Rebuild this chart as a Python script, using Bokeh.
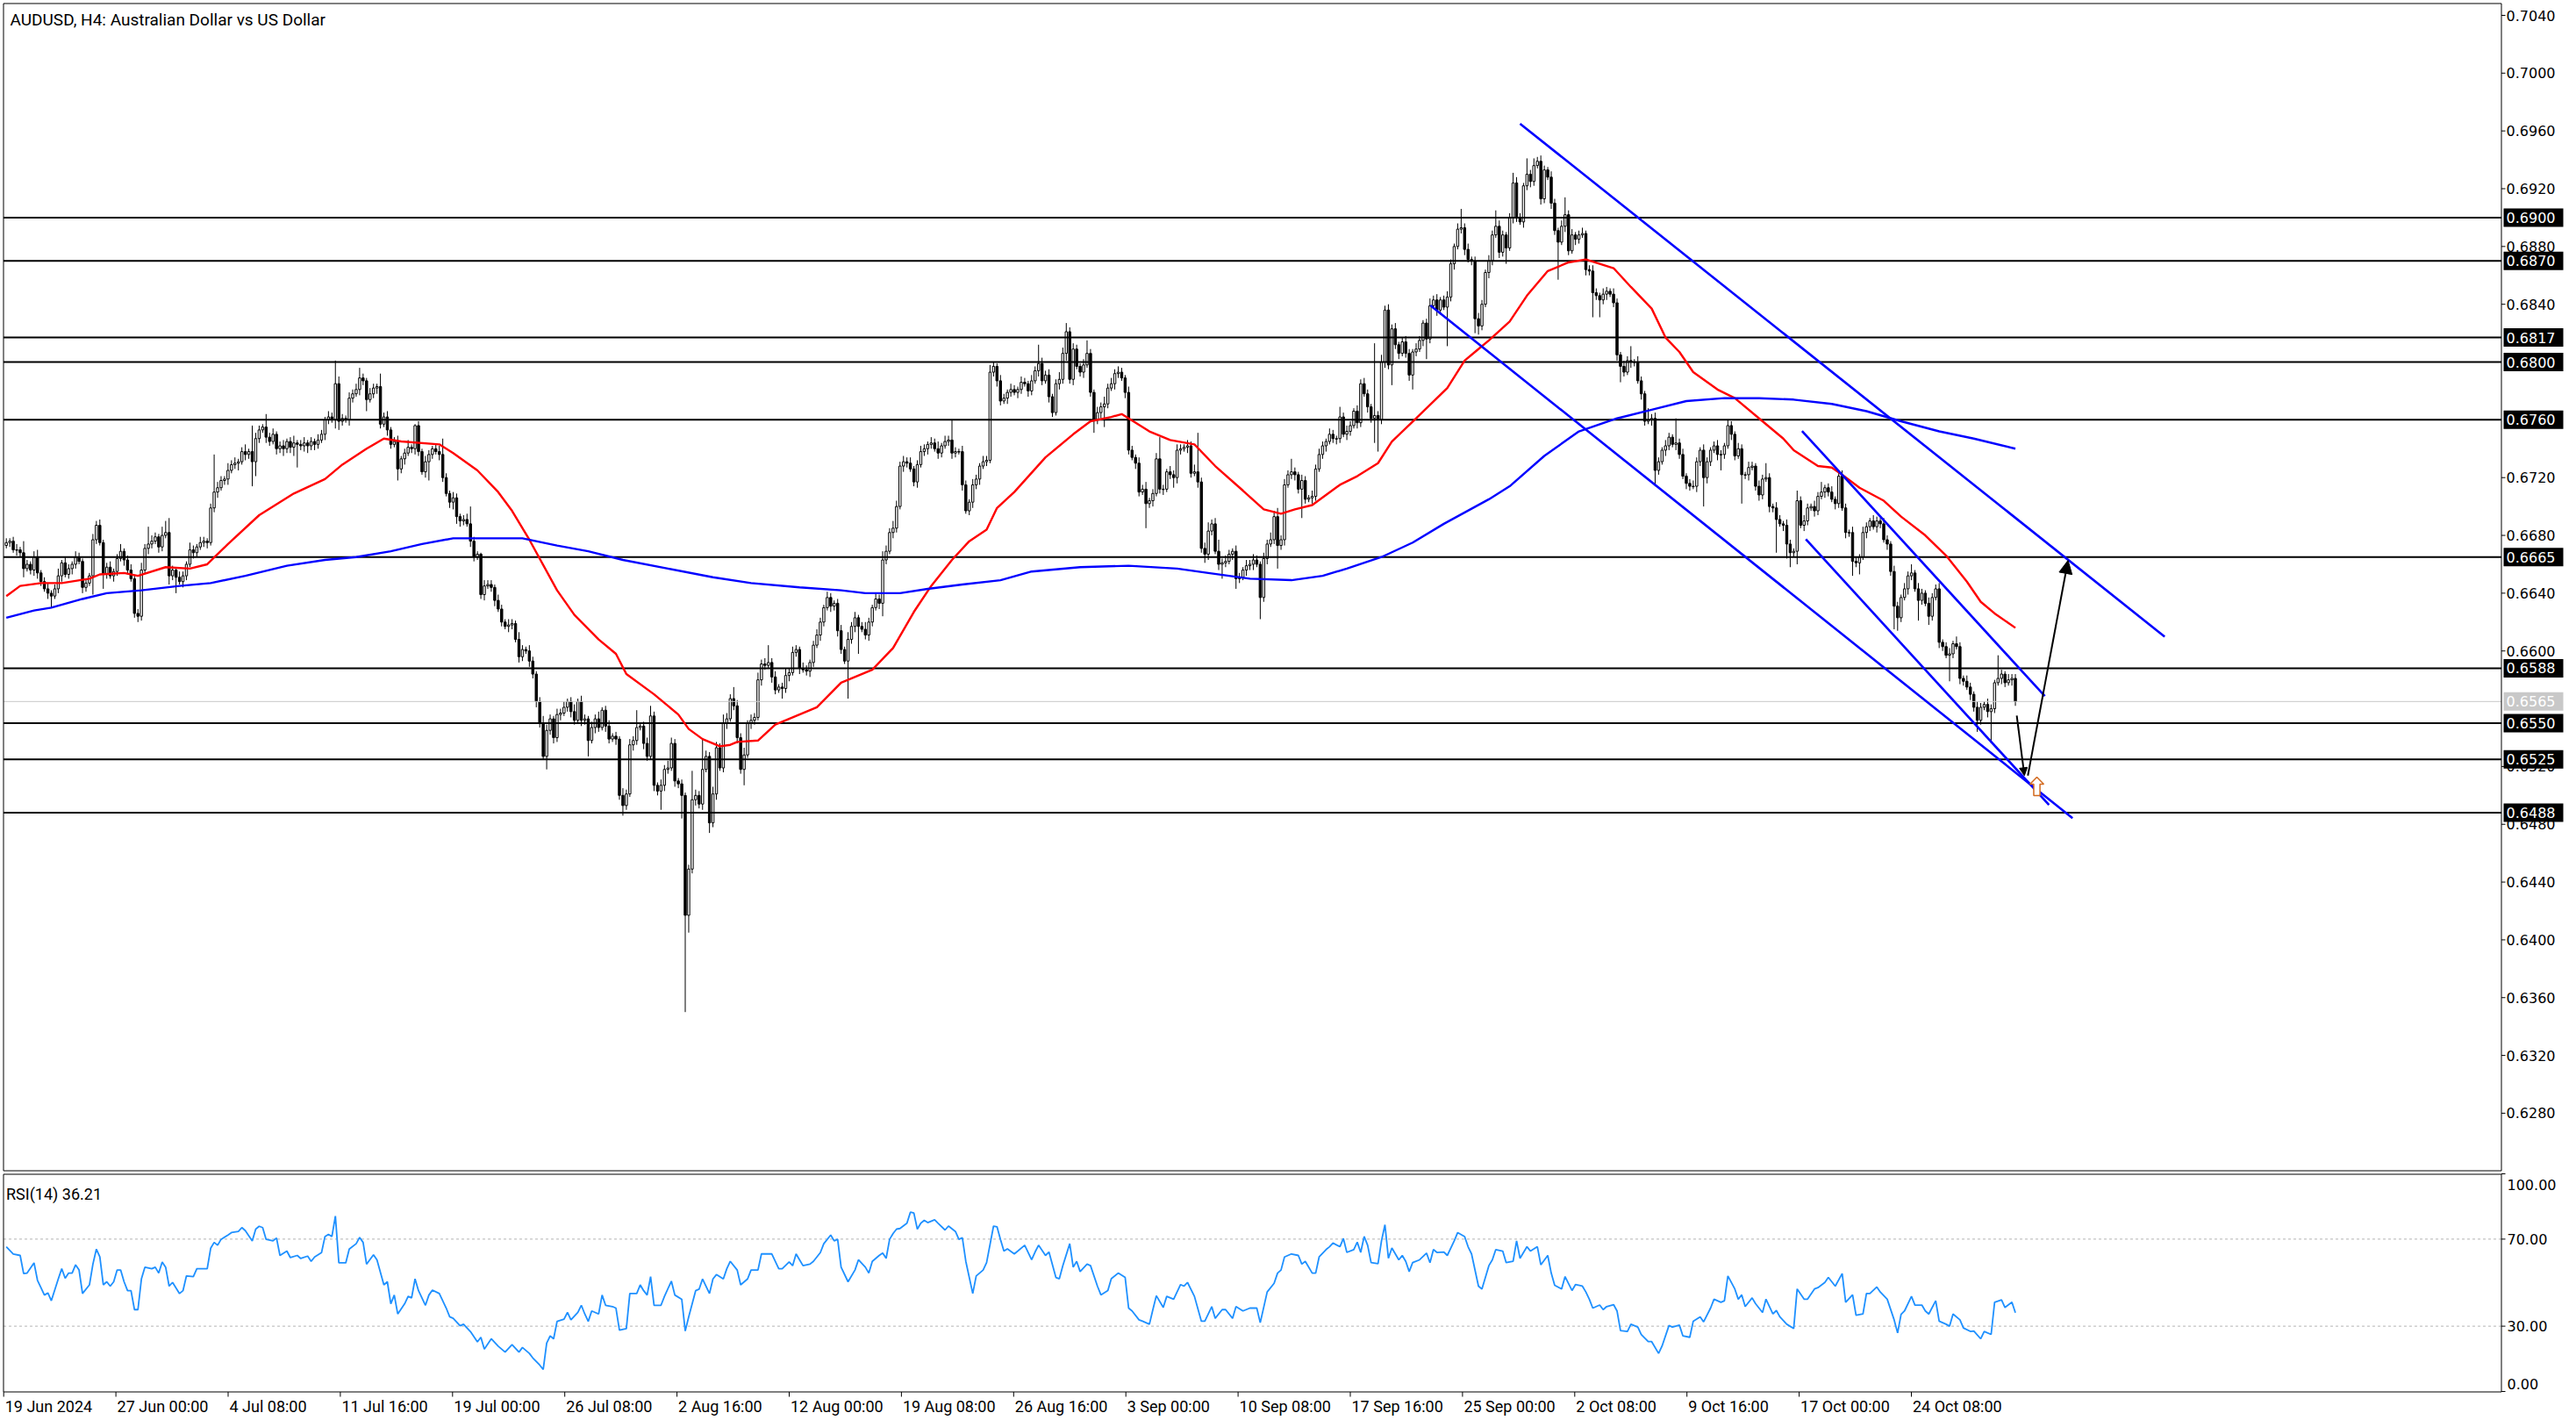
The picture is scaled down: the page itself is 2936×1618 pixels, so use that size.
from bokeh.plotting import figure
from bokeh.layouts import column
from bokeh.models import Range1d, Arrow, NormalHead, ColumnDataSource
from bokeh.core.properties import value
from bokeh.embed import file_html
from bokeh.resources import INLINE

# ---------------------------------------------------------------- data
symbol_title = "AUDUSD, H4:  Australian Dollar vs US Dollar"
rsi_title = "RSI(14) 36.21"
PIP = 0.0001
first_open_pips = 6673

close_pips = [
    6675, 6676, 6670, 6670, 6668, 6657, 6660, 6656, 6665, 6654,
    6648, 6643, 6640, 6638, 6643, 6652, 6661, 6653, 6657, 6660,
    6665, 6662, 6644, 6647, 6652, 6677, 6687, 6675, 6653, 6658,
    6652, 6655, 6664, 6669, 6663, 6656, 6650, 6626, 6624, 6656,
    6671, 6674, 6676, 6679, 6672, 6680, 6682, 6652, 6656, 6651,
    6648, 6652, 6660, 6670, 6668, 6672, 6675, 6676, 6675, 6699,
    6710, 6713, 6718, 6719, 6725, 6729, 6730, 6731, 6738, 6736,
    6738, 6731, 6747, 6753, 6755, 6748, 6745, 6750, 6740, 6742,
    6740, 6745, 6741, 6744, 6743, 6742, 6744, 6742, 6745, 6743,
    6746, 6750, 6760, 6762, 6760, 6785, 6759, 6761, 6760, 6775,
    6778, 6781, 6789, 6787, 6774, 6778, 6782, 6783, 6757, 6762,
    6753, 6743, 6745, 6726, 6733, 6737, 6741, 6740, 6756, 6738,
    6724, 6731, 6736, 6740, 6738, 6736, 6720, 6709, 6703, 6706,
    6693, 6690, 6691, 6688, 6676, 6665, 6667, 6639, 6645, 6646,
    6644, 6635, 6629, 6620, 6617, 6618, 6619, 6608, 6596, 6601,
    6600, 6593, 6584, 6565, 6550, 6527, 6545, 6553, 6540, 6556,
    6557, 6561, 6565, 6558, 6552, 6565, 6552, 6553, 6538, 6547,
    6553, 6547, 6559, 6548, 6539, 6541, 6539, 6500, 6493, 6501,
    6535, 6538, 6547, 6548, 6536, 6527, 6555, 6507, 6503, 6507,
    6518, 6519, 6536, 6510, 6508, 6500, 6417, 6449, 6497, 6500,
    6494, 6518, 6527, 6481, 6501, 6533, 6519, 6550, 6553, 6567,
    6562, 6540, 6518, 6528, 6550, 6552, 6554, 6580, 6591, 6590,
    6592, 6582, 6573, 6575, 6574, 6583, 6585, 6599, 6601, 6588,
    6587, 6586, 6592, 6604, 6611, 6620, 6630, 6637, 6631, 6633,
    6614, 6601, 6593, 6608, 6617, 6623, 6617, 6615, 6611, 6620,
    6630, 6636, 6633, 6663, 6669, 6682, 6685, 6700, 6728, 6731,
    6730, 6726, 6717, 6729, 6738, 6740, 6743, 6744, 6740, 6737,
    6742, 6745, 6746, 6737, 6738, 6738, 6715, 6697, 6703, 6715,
    6719, 6728, 6731, 6732, 6793, 6797, 6787, 6773, 6775, 6779,
    6781, 6779, 6781, 6786, 6785, 6780, 6787, 6794, 6799, 6787,
    6791, 6776, 6765, 6785, 6788, 6806, 6821, 6788, 6809, 6797,
    6793, 6798, 6806, 6779, 6760, 6765, 6769, 6771, 6782, 6785,
    6792, 6793, 6789, 6779, 6739, 6734, 6730, 6710, 6712, 6702,
    6704, 6709, 6733, 6712, 6712, 6724, 6722, 6720, 6739, 6740,
    6741, 6742, 6723, 6724, 6717, 6671, 6667, 6683, 6688, 6669,
    6660, 6661, 6662, 6667, 6669, 6650, 6651, 6656, 6659, 6660,
    6663, 6660, 6637, 6664, 6674, 6677, 6693, 6673, 6677, 6715,
    6722, 6724, 6722, 6712, 6718, 6705, 6706, 6707, 6726, 6736,
    6742, 6745, 6750, 6747, 6747, 6762, 6750, 6752, 6756, 6766,
    6758, 6785, 6778, 6769, 6761, 6763, 6760, 6800, 6836, 6798,
    6823, 6812, 6806, 6814, 6806, 6791, 6807, 6809, 6815, 6827,
    6816, 6839, 6843, 6836, 6843, 6838, 6845, 6868, 6880, 6892,
    6893, 6878, 6871, 6870, 6830, 6825, 6840, 6862, 6870, 6888,
    6894, 6876, 6888, 6879, 6900, 6924, 6900, 6897, 6922, 6930,
    6925, 6936, 6939, 6913, 6933, 6928, 6910, 6891, 6883, 6894,
    6902, 6877, 6888, 6885, 6888, 6889, 6864, 6863, 6848, 6846,
    6843, 6847, 6849, 6847, 6841, 6805, 6797, 6793, 6801, 6800,
    6800, 6787, 6778, 6759, 6760, 6761, 6725, 6731, 6739, 6742,
    6748, 6743, 6744, 6736, 6721, 6716, 6714, 6714, 6731, 6739,
    6720, 6731, 6739, 6742, 6736, 6736, 6742, 6756, 6750, 6735,
    6740, 6722, 6722, 6727, 6728, 6714, 6708, 6719, 6720, 6700,
    6699, 6691, 6688, 6687, 6674, 6668, 6669, 6704, 6687, 6690,
    6699, 6700, 6697, 6707, 6710, 6713, 6710, 6705, 6702, 6721,
    6699, 6682, 6682, 6662, 6661, 6665, 6682, 6686, 6690, 6686,
    6690, 6688, 6677, 6674, 6655, 6631, 6623, 6637, 6643, 6652,
    6654, 6643, 6635, 6640, 6633, 6624, 6637, 6643, 6606, 6603,
    6597, 6598, 6605, 6603, 6581, 6579, 6575, 6570, 6561, 6552,
    6561, 6563, 6558, 6560, 6578, 6581, 6584, 6578, 6580, 6581,
    6565,
]

upper_wick_pips = [
    3, 2, 3, 4, 2, 8, 3, 2, 4, 5, 2, 3, 4, 2, 3, 5, 2, 4, 3, 2,
    4, 3, 2, 3, 2, 4, 3, 4, 2, 3, 4, 2, 3, 5, 2, 3, 4, 2, 3, 5,
    3, 12, 4, 3, 2, 6, 8, 10, 3, 2, 4, 3, 2, 5, 3, 2, 4, 3, 2, 3,
    26, 4, 3, 2, 5, 3, 4, 2, 3, 5, 2, 18, 4, 3, 2, 9, 3, 4, 2, 3,
    4, 2, 3, 5, 2, 3, 4, 2, 3, 2, 4, 3, 2, 4, 3, 16, 5, 3, 2, 4,
    3, 4, 7, 3, 2, 4, 3, 2, 9, 3, 4, 2, 3, 4, 2, 3, 5, 2, 1, 3,
    2, 4, 3, 2, 3, 4, 11, 3, 2, 4, 3, 2, 3, 4, 12, 3, 2, 1, 4, 3,
    3, 2, 4, 3, 2, 4, 3, 2, 5, 3, 2, 4, 3, 2, 3, 5, 4, 3, 2, 4,
    3, 4, 2, 3, 5, 2, 4, 3, 2, 4, 3, 5, 2, 3, 4, 2, 3, 2, 5, 3,
    4, 3, 12, 2, 3, 4, 7, 3, 2, 4, 3, 5, 4, 3, 2, 3, 2, 3, 20, 4,
    3, 21, 4, 3, 5, 4, 3, 6, 4, 3, 8, 4, 3, 5, 2, 4, 3, 5, 3, 4,
    12, 3, 4, 2, 3, 5, 3, 4, 3, 2, 4, 3, 2, 3, 4, 3, 2, 4, 3, 2,
    3, 4, 2, 5, 3, 4, 2, 3, 5, 3, 2, 4, 3, 6, 4, 3, 5, 4, 3, 4,
    3, 4, 2, 3, 4, 3, 2, 4, 3, 5, 2, 4, 3, 14, 3, 2, 4, 3, 2, 4,
    3, 2, 4, 3, 5, 3, 2, 4, 3, 2, 4, 3, 2, 4, 3, 2, 4, 3, 13, 4,
    3, 4, 2, 3, 5, 4, 6, 3, 4, 3, 2, 4, 9, 3, 2, 4, 3, 5, 3, 4,
    3, 4, 3, 2, 4, 3, 2, 4, 3, 5, 2, 3, 4, 15, 3, 2, 4, 3, 4, 3,
    2, 4, 3, 5, 27, 3, 4, 6, 3, 4, 8, 3, 4, 3, 2, 4, 3, 2, 4, 3,
    4, 3, 2, 4, 3, 5, 4, 6, 3, 4, 3, 9, 3, 2, 4, 3, 2, 4, 3, 4,
    3, 2, 4, 3, 2, 7, 3, 4, 3, 2, 4, 3, 4, 3, 2, 50, 3, 5, 3, 4,
    3, 4, 2, 3, 4, 3, 2, 4, 3, 2, 3, 5, 3, 4, 2, 3, 4, 3, 2, 4,
    13, 3, 4, 2, 3, 4, 3, 2, 4, 3, 11, 4, 3, 2, 3, 7, 4, 3, 2, 11,
    3, 5, 3, 4, 3, 2, 4, 3, 2, 4, 12, 3, 4, 2, 3, 4, 2, 3, 4, 3,
    2, 4, 3, 2, 4, 3, 2, 4, 3, 10, 2, 4, 3, 2, 8, 3, 4, 3, 2, 4,
    3, 2, 17, 3, 4, 2, 3, 4, 3, 2, 4, 3, 2, 3, 4, 3, 2, 4, 3, 2,
    4, 3, 2, 4, 3, 2, 4, 3, 10, 3, 2, 4, 3, 2, 4, 3, 2, 7, 3, 4,
    3, 2, 4, 3, 7, 2, 3, 4, 2, 3, 4, 3, 2, 4, 3, 2, 4, 3, 2, 4,
    3, 2, 4, 3, 2, 4, 3, 2, 4, 3, 6, 2, 4, 3, 2, 4, 3, 3, 4, 2,
    3, 4, 2, 5, 3, 2, 4, 3, 2, 4, 3, 2, 4, 3, 2, 16, 3, 2, 4, 3,
    3,
]

lower_wick_pips = [
    2, 3, 2, 4, 3, 6, 2, 3, 4, 4, 3, 2, 4, 8, 2, 3, 4, 2, 3, 4,
    3, 2, 4, 3, 2, 13, 3, 2, 10, 3, 2, 4, 3, 2, 4, 3, 2, 3, 4, 3,
    2, 4, 3, 2, 4, 3, 2, 6, 3, 11, 2, 4, 3, 2, 4, 3, 2, 3, 4, 2,
    3, 4, 2, 3, 4, 2, 3, 5, 2, 4, 3, 17, 10, 3, 2, 4, 3, 2, 4, 3,
    5, 3, 4, 6, 16, 3, 4, 5, 3, 4, 3, 2, 4, 3, 2, 6, 6, 3, 2, 4,
    3, 2, 4, 3, 8, 2, 3, 4, 3, 2, 4, 3, 2, 8, 3, 4, 2, 3, 4, 3,
    2, 4, 13, 3, 2, 4, 3, 2, 4, 5, 5, 4, 3, 2, 4, 3, 2, 3, 4, 2,
    3, 4, 2, 3, 2, 4, 3, 2, 4, 3, 2, 4, 3, 4, 3, 2, 9, 3, 4, 3,
    4, 2, 3, 4, 3, 2, 4, 3, 11, 2, 4, 3, 2, 4, 3, 2, 4, 3, 7, 3,
    2, 4, 3, 2, 4, 3, 2, 4, 3, 13, 4, 3, 2, 4, 3, 16, 67, 12, 3, 4,
    3, 4, 2, 7, 3, 4, 2, 3, 4, 2, 3, 4, 3, 11, 2, 4, 3, 2, 4, 3,
    2, 4, 3, 2, 7, 3, 4, 2, 3, 4, 2, 3, 4, 3, 2, 4, 3, 2, 4, 3,
    4, 3, 2, 26, 3, 4, 19, 2, 3, 4, 3, 2, 4, 9, 3, 2, 4, 3, 2, 4,
    3, 2, 3, 4, 2, 3, 4, 3, 2, 4, 3, 2, 3, 4, 3, 2, 4, 2, 3, 4,
    3, 4, 2, 3, 2, 3, 4, 3, 2, 4, 3, 2, 4, 3, 2, 4, 3, 2, 4, 3,
    2, 4, 3, 2, 4, 3, 5, 3, 4, 2, 3, 4, 2, 3, 9, 3, 4, 14, 3, 2,
    4, 3, 2, 4, 3, 2, 4, 3, 2, 17, 3, 4, 2, 3, 4, 2, 3, 7, 4, 3,
    2, 4, 3, 2, 4, 3, 6, 4, 3, 2, 4, 10, 3, 2, 4, 7, 3, 2, 4, 3,
    4, 2, 15, 3, 4, 2, 3, 16, 3, 4, 2, 3, 4, 3, 20, 3, 2, 4, 3, 2,
    3, 4, 2, 3, 4, 3, 2, 4, 3, 2, 4, 3, 2, 4, 3, 17, 22, 3, 4, 3,
    14, 3, 4, 2, 3, 4, 10, 3, 2, 4, 14, 3, 2, 4, 3, 2, 27, 3, 4, 2,
    3, 4, 2, 3, 10, 6, 3, 2, 4, 3, 2, 4, 3, 11, 2, 4, 3, 2, 4, 3,
    4, 3, 2, 4, 3, 2, 4, 3, 26, 2, 4, 3, 2, 4, 3, 2, 4, 3, 17, 3,
    12, 3, 4, 2, 3, 4, 11, 3, 2, 4, 3, 2, 4, 3, 2, 4, 11, 3, 2, 4,
    3, 2, 4, 3, 2, 4, 3, 2, 4, 3, 20, 4, 3, 2, 4, 11, 3, 2, 4, 3,
    2, 20, 3, 4, 2, 3, 4, 3, 2, 4, 3, 23, 2, 4, 10, 10, 3, 9, 2, 4,
    3, 2, 4, 3, 2, 4, 3, 2, 4, 3, 2, 4, 3, 10, 3, 8, 2, 4, 3, 2,
    4, 3, 2, 4, 3, 16, 9, 3, 2, 4, 3, 2, 14, 3, 2, 6, 3, 2, 4, 3,
    2, 18, 3, 2, 4, 3, 2, 4, 3, 8, 3, 2, 4, 22, 3, 2, 4, 3, 2, 4,
    3,
]

# moving averages (bar index, value in pips)
red_ma_bar = [0, 4, 10, 16, 24, 27, 34, 38, 46, 53, 58, 64, 73, 83, 92, 97, 104, 109, 114, 125,
              129, 136, 142, 146, 151, 159, 164, 171, 176, 179, 187, 194, 197, 201, 206, 209, 211, 217, 222, 229,
              234, 241, 250, 256, 262, 267, 273, 278, 283, 286, 291, 300, 308, 313, 319, 322, 330, 336, 343, 349,
              357, 363, 368, 372, 377, 385, 390, 396, 400, 407, 413, 416, 421, 424, 428, 434, 439, 445, 451, 456,
              464, 469, 475, 479, 483, 487, 494, 499, 507, 513, 516, 523, 527, 530, 535, 542, 547, 554, 560, 566,
              570, 574, 580]
red_ma_pips = [6638, 6645, 6647, 6647, 6650, 6653, 6654, 6652, 6658, 6657, 6660, 6674, 6694, 6709, 6719, 6729, 6740, 6747, 6745, 6743,
               6737, 6725, 6710, 6697, 6677, 6642, 6625, 6608, 6598, 6584, 6570, 6556, 6546, 6539, 6534, 6535, 6537, 6538, 6549, 6556,
               6561, 6578, 6587, 6602, 6627, 6645, 6663, 6676, 6684, 6699, 6710, 6734, 6750, 6759, 6762, 6764, 6752, 6746, 6743, 6728,
               6711, 6698, 6695, 6698, 6701, 6715, 6721, 6730, 6745, 6761, 6775, 6782, 6801, 6807, 6815, 6828, 6846, 6863, 6869, 6871,
               6865, 6852, 6837, 6817, 6807, 6793, 6781, 6775, 6759, 6747, 6739, 6728, 6727, 6722, 6713, 6704, 6693, 6680, 6666, 6648,
               6634, 6626, 6616]
blue_ma_bar = [0, 8, 13, 22, 29, 39, 50, 59, 69, 81, 92, 101, 111, 120, 129, 135, 145, 149, 159, 168,
               178, 191, 204, 215, 229, 241, 248, 258, 266, 276, 287, 296, 310, 324, 338, 347, 359, 371, 380, 387,
               397, 406, 415, 428, 434, 444, 454, 465, 475, 485, 496, 506, 516, 527, 537, 547, 558, 568, 580]
blue_ma_pips = [6623, 6628, 6630, 6636, 6640, 6642, 6645, 6647, 6652, 6659, 6663, 6665, 6669, 6674, 6678, 6678, 6678, 6678, 6673, 6669,
                6663, 6657, 6651, 6647, 6644, 6642, 6640, 6640, 6643, 6646, 6649, 6655, 6658, 6659, 6657, 6654, 6650, 6649, 6652, 6657,
                6665, 6675, 6688, 6705, 6714, 6735, 6752, 6761, 6767, 6773, 6775, 6775, 6774, 6771, 6766, 6759, 6752, 6747, 6740]

# RSI(14) (bar index, value)
rsi_bar = [
    0, 2, 4, 5, 6, 8, 9, 11, 12, 13, 15, 16, 17, 18, 19, 20, 21, 22, 24, 25,
    26, 27, 28, 29, 30, 31, 32, 33, 34, 35, 36, 37, 38, 39, 40, 42, 43, 44, 45, 46,
    47, 48, 50, 51, 52, 54, 55, 58, 59, 60, 61, 62, 64, 65, 67, 68, 69, 71, 72, 73,
    74, 75, 77, 78, 79, 81, 82, 84, 85, 87, 88, 89, 91, 92, 93, 94, 95, 96, 98, 99,
    101, 102, 103, 104, 106, 107, 109, 110, 111, 112, 113, 115, 116, 117, 118, 119, 121, 122, 123, 125,
    127, 128, 129, 131, 132, 134, 136, 137, 138, 140, 142, 144, 146, 148, 149, 151, 152, 154, 155, 156,
    157, 158, 159, 161, 162, 163, 165, 166, 167, 168, 169, 171, 172, 173, 175, 176, 177, 179, 180, 182,
    183, 184, 185, 186, 187, 189, 190, 192, 193, 195, 196, 197, 199, 200, 201, 203, 204, 205, 207, 208,
    209, 211, 212, 214, 215, 217, 218, 221, 223, 224, 226, 227, 228, 229, 230, 232, 233, 235, 236, 238,
    239, 240, 241, 243, 245, 246, 248, 249, 250, 252, 253, 254, 255, 256, 257, 258, 260, 261, 262, 263,
    264, 265, 266, 268, 269, 271, 272, 274, 275, 276, 277, 279, 280, 282, 283, 285, 286, 287, 288, 289,
    291, 292, 294, 296, 297, 298, 300, 301, 303, 304, 305, 307, 308, 309, 310, 312, 313, 315, 316, 318,
    319, 321, 323, 324, 325, 327, 328, 330, 331, 332, 334, 335, 337, 339, 340, 341, 343, 345, 346, 348,
    349, 351, 352, 354, 355, 357, 359, 361, 362, 364, 366, 367, 368, 369, 371, 373, 374, 375, 377, 378,
    379, 381, 382, 383, 385, 386, 387, 389, 390, 391, 392, 393, 394, 396, 397, 398, 399, 400, 402, 403,
    404, 405, 406, 408, 410, 411, 412, 413, 415, 416, 418, 419, 421, 422, 423, 425, 426, 428, 429, 430,
    432, 433, 435, 436, 437, 439, 440, 442, 443, 445, 446, 447, 449, 450, 452, 453, 455, 456, 457, 458,
    460, 461, 462, 464, 465, 466, 468, 469, 471, 472, 474, 475, 477, 478, 480, 481, 483, 484, 486, 487,
    489, 490, 492, 493, 495, 496, 497, 499, 500, 501, 502, 504, 505, 507, 508, 510, 511, 512, 514, 516,
    517, 519, 520, 522, 523, 525, 526, 528, 530, 531, 533, 534, 536, 537, 538, 540, 541, 543, 545, 546,
    547, 548, 550, 551, 553, 554, 555, 557, 558, 560, 561, 562, 564, 565, 567, 568, 570, 571, 573, 574,
    576, 577, 579, 580,
]
rsi_value = [
    66.5, 63.2, 62.5, 54.2, 54.4, 59.1, 51.1, 44.3, 45.3, 41.7, 51.7, 56.4, 52.0, 54.4, 54.4, 58.2, 55.8, 45.0, 49.0, 58.5,
    65.4, 61.8, 49.0, 50.4, 48.4, 50.4, 55.8, 55.8, 50.4, 46.3, 46.3, 37.6, 37.6, 51.7, 57.1, 56.4, 57.1, 54.4, 59.5, 57.1,
    48.4, 50.1, 45.0, 46.3, 53.1, 52.8, 56.4, 56.4, 65.8, 68.5, 67.2, 69.9, 71.9, 73.0, 73.5, 75.3, 73.9, 69.2, 74.6, 75.9,
    75.3, 69.9, 69.2, 70.5, 62.5, 64.5, 61.5, 62.5, 61.1, 62.2, 59.8, 61.8, 63.8, 71.2, 72.2, 71.2, 80.6, 59.1, 59.1, 65.4,
    67.9, 70.8, 68.5, 58.5, 62.8, 60.5, 49.0, 50.4, 40.3, 44.3, 35.6, 40.3, 43.7, 43.0, 51.7, 46.3, 39.6, 44.3, 46.6, 45.0,
    38.3, 34.3, 33.6, 30.2, 30.9, 27.5, 22.8, 24.9, 19.5, 24.2, 20.8, 18.1, 21.5, 18.1, 20.2, 17.5, 15.4, 12.1, 10.1, 22.2,
    25.5, 24.2, 32.2, 33.2, 36.3, 32.9, 36.3, 39.6, 35.6, 32.2, 37.0, 35.6, 44.3, 39.6, 39.0, 38.3, 28.2, 28.9, 45.0, 45.0,
    49.0, 46.3, 44.3, 52.8, 39.6, 39.6, 43.7, 50.7, 44.3, 42.3, 27.8, 34.3, 46.3, 47.0, 51.7, 45.0, 51.7, 53.7, 51.7, 56.4,
    59.8, 55.8, 49.0, 51.7, 55.8, 55.8, 63.2, 63.2, 56.4, 56.4, 59.5, 57.8, 63.2, 60.5, 57.8, 58.5, 59.8, 63.8, 67.9, 71.9,
    69.2, 69.9, 57.1, 50.4, 55.8, 60.5, 57.1, 54.4, 59.8, 62.5, 63.6, 61.2, 69.9, 72.6, 74.6, 74.9, 77.3, 82.4, 82.0, 74.6,
    77.3, 78.6, 77.6, 78.9, 77.3, 74.2, 76.0, 73.5, 69.9, 70.6, 59.8, 45.0, 53.1, 55.8, 59.2, 76.0, 75.7, 69.9, 64.5, 65.5,
    63.2, 64.5, 67.2, 60.5, 64.1, 67.2, 62.5, 64.1, 52.4, 51.8, 57.8, 67.9, 57.1, 59.8, 55.1, 58.5, 57.8, 48.4, 44.4, 46.4,
    51.8, 54.4, 52.4, 38.3, 37.0, 32.9, 32.3, 30.9, 37.6, 44.0, 38.6, 43.7, 42.4, 49.1, 48.4, 50.1, 43.7, 32.3, 32.3, 39.0,
    33.6, 37.6, 37.6, 33.6, 39.0, 37.0, 38.3, 38.3, 31.6, 45.7, 49.7, 54.4, 55.8, 61.8, 63.2, 62.5, 58.5, 59.8, 54.4, 54.4,
    61.8, 65.2, 66.5, 68.2, 66.5, 70.3, 63.9, 65.2, 68.6, 63.9, 71.2, 67.2, 59.2, 58.7, 69.2, 76.6, 61.2, 65.9, 60.5, 62.5,
    59.8, 55.1, 59.2, 60.5, 63.6, 59.2, 65.2, 63.9, 64.1, 62.5, 69.2, 73.0, 71.2, 66.5, 63.2, 48.4, 47.1, 57.8, 60.5, 65.2,
    64.5, 59.2, 59.8, 69.2, 61.2, 66.5, 64.5, 66.5, 58.2, 62.5, 54.4, 48.8, 47.1, 52.8, 46.4, 49.1, 48.4, 45.7, 42.4, 38.3,
    39.7, 37.6, 39.0, 39.9, 37.0, 28.0, 27.6, 30.9, 29.6, 26.2, 22.9, 22.9, 17.5, 20.9, 30.3, 29.6, 30.5, 25.6, 24.9, 32.3,
    34.3, 32.0, 38.3, 42.4, 41.0, 41.7, 53.1, 47.1, 42.4, 44.4, 39.0, 43.0, 40.3, 36.3, 42.4, 35.6, 37.2, 34.3, 30.9, 28.9,
    47.1, 42.4, 42.4, 47.1, 47.7, 50.1, 52.4, 48.4, 54.2, 41.0, 44.4, 35.0, 35.6, 45.0, 45.0, 48.0, 45.7, 42.4, 32.9, 26.9,
    35.4, 37.0, 43.7, 39.7, 39.7, 37.0, 35.6, 41.7, 32.3, 30.9, 30.0, 35.6, 32.9, 29.2, 27.6, 27.8, 24.2, 27.6, 26.2, 41.0,
    42.1, 38.6, 41.0, 36.2,
]

level_prices = [0.6900, 0.6870, 0.6817, 0.6800, 0.6760, 0.6665, 0.6588, 0.6550, 0.6525, 0.6488]
current_price = 0.6565
price_axis_ticks = [0.7040, 0.7000, 0.6960, 0.6920, 0.6880, 0.6840, 0.6720, 0.6680, 0.6640,
                    0.6600, 0.6520, 0.6480, 0.6440, 0.6400, 0.6360, 0.6320, 0.6280]
rsi_axis_values = [100, 70, 30, 0]
rsi_axis_texts = ["100.00", "70.00", "30.00", "0.00"]
rsi_levels = [30, 70]
date_labels = ["19 Jun 2024", "27 Jun 00:00", "4 Jul 08:00", "11 Jul 16:00", "19 Jul 00:00",
               "26 Jul 08:00", "2 Aug 16:00", "12 Aug 00:00", "19 Aug 08:00", "26 Aug 16:00",
               "3 Sep 00:00", "10 Sep 08:00", "17 Sep 16:00", "25 Sep 00:00", "2 Oct 08:00",
               "9 Oct 16:00", "17 Oct 00:00", "24 Oct 08:00"]

# drawn trend lines (start bar, start price, end bar, end price)
trend_bar0 = [437.0, 411.1, 518.4, 519.5]
trend_price0 = [0.69650, 0.68392, 0.67523, 0.66773]
trend_bar1 = [623.1, 596.5, 588.5, 589.7]
trend_price1 = [0.66099, 0.64843, 0.65687, 0.64934]
# projected path arrows (down leg then up leg)
path_bar0 = [580.4, 583.6]
path_price0 = [0.65552, 0.65137]
path_bar1 = [582.6, 595.2]
path_price1 = [0.65137, 0.66627]
buy_mark_bar = 586.2
buy_mark_price = 0.65127

# ---------------------------------------------------------------- geometry
W = 2936
MAIN_PX_H = 1335          # main canvas height
RSI_PX_H = 1618 - MAIN_PX_H
BAR_PX = 3.948            # pixels per bar
BAR0_PX = 6.7             # pixel of bar 0
PPX = 0.080865 / 1331     # price per pixel
PRICE_REF, PRICE_REF_PX = 0.7040, 17.0
RSI_TOP_PX, RSI_BOT_PX = 1337.0, 1585.0
RPX = 100.0 / (RSI_BOT_PX - RSI_TOP_PX)
FRAME_L, FRAME_R = 3.5, 2850.5
MAIN_TOP, MAIN_BOT = 3.5, 1333.5


def bx(px):
    return (px - BAR0_PX) / BAR_PX


def pyv(px):
    return PRICE_REF - (px - PRICE_REF_PX) * PPX


def ryv(px):
    return (RSI_BOT_PX - px) * RPX


AXIS_FONT = value("DejaVu Sans")
TEXT_FONT = value("Roboto")

xr = Range1d(bx(0), bx(W))

p = figure(frame_width=W, frame_height=MAIN_PX_H, x_range=xr,
           y_range=Range1d(pyv(MAIN_PX_H), pyv(0)),
           output_backend="svg", toolbar_location=None, x_axis_location=None,
           y_axis_location=None, min_border=0)
p.grid.visible = False
p.outline_line_color = None
p.background_fill_color = "white"
p.border_fill_color = "white"

# ---------------------------------------------------------------- candles
n = min(len(close_pips), len(upper_wick_pips), len(lower_wick_pips))
closes = close_pips[:n]
opens = [first_open_pips] + closes[:-1]
body_top = [max(a, b) for a, b in zip(opens, closes)]
body_bot = [min(a, b) for a, b in zip(opens, closes)]
highs = [t + u for t, u in zip(body_top, upper_wick_pips[:n])]
lows = [b - l for b, l in zip(body_bot, lower_wick_pips[:n])]
fills = ["white" if c > o else "black" for o, c in zip(opens, closes)]
src = ColumnDataSource(dict(
    x=list(range(n)),
    hi=[v * PIP for v in highs],
    lo=[v * PIP for v in lows],
    top=[v * PIP for v in body_top],
    bot=[(b - 0.3 if b == t else b) * PIP for b, t in zip(body_bot, body_top)],
    fill=fills,
))
p.segment(x0="x", y0="hi", x1="x", y1="lo", source=src, line_color="black", line_width=1)
p.vbar(x="x", width=0.62, top="top", bottom="bot", source=src, fill_color="fill",
       line_color="black", line_width=1)

# ---------------------------------------------------------------- horizontal levels
xl, xa = bx(FRAME_L), bx(FRAME_R)
p.segment(x0=[xl] * len(level_prices), y0=level_prices, x1=[xa] * len(level_prices), y1=level_prices,
          line_color="black", line_width=2)
p.segment(x0=[xl], y0=[current_price], x1=[xa], y1=[current_price], line_color="#c8c8c8", line_width=1)

# moving averages
p.line(red_ma_bar, [v * PIP for v in red_ma_pips], line_color="#ff0000", line_width=2.4)
p.line(blue_ma_bar, [v * PIP for v in blue_ma_pips], line_color="#0000ff", line_width=2.4)

# trend lines
p.segment(x0=trend_bar0, y0=trend_price0, x1=trend_bar1, y1=trend_price1,
          line_color="#0000ff", line_width=2.6)

# projected path
p.add_layout(Arrow(end=NormalHead(size=9, fill_color="black", line_color="black"),
                   x_start=path_bar0[0], y_start=path_price0[0], x_end=path_bar1[0], y_end=path_price1[0],
                   line_color="black", line_width=2))
p.add_layout(Arrow(end=NormalHead(size=15, fill_color="black", line_color="black"),
                   x_start=path_bar0[1], y_start=path_price0[1], x_end=path_bar1[1], y_end=path_price1[1],
                   line_color="black", line_width=2))

# hollow buy arrow symbol
hw, sw = 2.0, 0.9
head_h, total_h = 8 * PPX, 21 * PPX
bxm, bym = buy_mark_bar, buy_mark_price
p.patch([bxm, bxm + hw, bxm + sw, bxm + sw, bxm - sw, bxm - sw, bxm - hw],
        [bym, bym - head_h, bym - head_h, bym - total_h, bym - total_h, bym - head_h, bym - head_h],
        fill_color="white", line_color="#d2691e", line_width=1.5)

# frame borders and price scale line
p.segment(x0=[xl, xl, xl, xa], y0=[pyv(MAIN_TOP), pyv(MAIN_TOP), pyv(MAIN_BOT), pyv(MAIN_TOP)],
          x1=[xa, xl, xa, xa], y1=[pyv(MAIN_TOP), pyv(MAIN_BOT), pyv(MAIN_BOT), pyv(MAIN_BOT)],
          line_color="black", line_width=1)

# price scale ticks and labels
nt = len(price_axis_ticks)
p.segment(x0=[xa] * nt, y0=price_axis_ticks, x1=[bx(2855)] * nt, y1=price_axis_ticks,
          line_color="black", line_width=1)
p.text(x=[bx(2856)] * nt, y=price_axis_ticks, text=[f"{t:.4f}" for t in price_axis_ticks],
       text_font=AXIS_FONT, text_font_size=value("16px"), text_color="black",
       text_align="left", text_baseline="middle")

# price tags
nl = len(level_prices)
p.rect(x=[bx(2887)] * nl, y=level_prices, width=68 / BAR_PX, height=21 * PPX,
       fill_color="black", line_color=None)
p.text(x=[bx(2856)] * nl, y=level_prices, text=[f"{lv:.4f}" for lv in level_prices],
       text_font=AXIS_FONT, text_font_size=value("16px"), text_color="white",
       text_align="left", text_baseline="middle")
p.rect(x=[bx(2887)], y=[current_price], width=68 / BAR_PX, height=21 * PPX,
       fill_color="#c8c8c8", line_color=None)
p.text(x=[bx(2856)], y=[current_price], text=[f"{current_price:.4f}"],
       text_font=AXIS_FONT, text_font_size=value("16px"), text_color="white",
       text_align="left", text_baseline="middle")

# title
p.text(x=[bx(11)], y=[pyv(21.7)], text=[symbol_title], text_font=TEXT_FONT,
       text_font_size=value("19px"), text_color="black", text_align="left",
       text_baseline="alphabetic")

# ---------------------------------------------------------------- RSI panel
r = figure(frame_width=W, frame_height=RSI_PX_H, x_range=xr,
           y_range=Range1d(ryv(1618), ryv(MAIN_PX_H)),
           output_backend="svg", toolbar_location=None, x_axis_location=None,
           y_axis_location=None, min_border=0)
r.grid.visible = False
r.outline_line_color = None
r.background_fill_color = "white"
r.border_fill_color = "white"

nr = len(rsi_levels)
r.segment(x0=[xl] * nr, y0=rsi_levels, x1=[xa] * nr, y1=rsi_levels,
          line_color="#b4b4b4", line_width=1, line_dash="3 3")
r.line(rsi_bar, rsi_value, line_color="#1e90ff", line_width=1.8)

rt, rb = ryv(RSI_TOP_PX + 0.5), ryv(RSI_BOT_PX + 0.5)
r.segment(x0=[xl, xl, xl, xa], y0=[rt, rt, rb, rt], x1=[xa, xl, xa, xa], y1=[rt, rb, rb, rb],
          line_color="black", line_width=1)

# RSI scale
na = len(rsi_axis_values)
r.segment(x0=[xa] * na, y0=rsi_axis_values, x1=[bx(2855)] * na, y1=rsi_axis_values,
          line_color="black", line_width=1)
rsi_label_y = [ryv(1349), ryv(1411), ryv(1510), ryv(1576)]
r.text(x=[bx(2857)] * na, y=rsi_label_y, text=rsi_axis_texts, text_font=AXIS_FONT,
       text_font_size=value("16px"), text_color="black", text_align="left",
       text_baseline="middle")

r.text(x=[bx(6.5)], y=[ryv(1360)], text=[rsi_title], text_font=TEXT_FONT,
       text_font_size=value("18px"), text_color="black", text_align="left",
       text_baseline="alphabetic")

# time scale
date_ticks = [bx(3.7 + 127.9 * k) for k in range(len(date_labels))]
nd = len(date_labels)
r.segment(x0=date_ticks, y0=[rb] * nd, x1=date_ticks, y1=[ryv(1591)] * nd,
          line_color="black", line_width=1)
r.text(x=[t + 1.5 / BAR_PX for t in date_ticks], y=[ryv(1591)] * nd, text=date_labels,
       text_font=TEXT_FONT, text_font_size=value("18px"), text_color="black",
       text_align="left", text_baseline="top")

layout = column(p, r, spacing=0)
open("out.html", "w").write(file_html(layout, INLINE))
